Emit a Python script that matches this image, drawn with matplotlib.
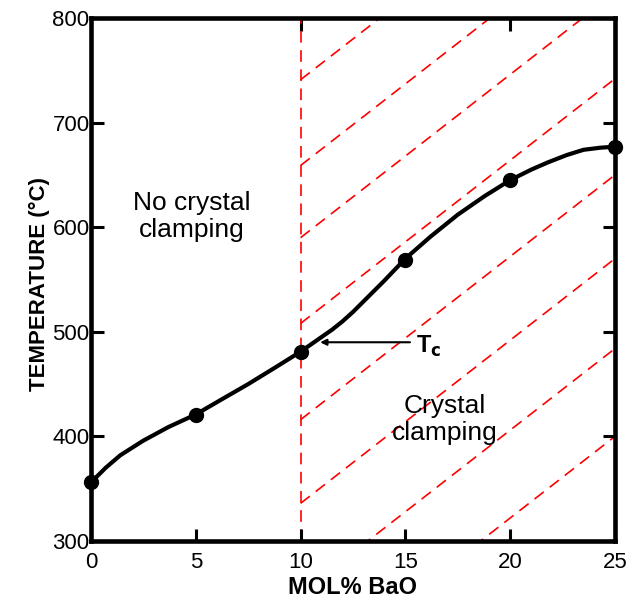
import numpy as np
import matplotlib
matplotlib.use("Agg")
import matplotlib.pyplot as plt

# measured points (mol% BaO, temperature in C)
pts_x = [0, 5, 10, 15, 20, 25]
pts_t = [356, 420, 481, 569, 645, 677]

# smooth curve traced through the figure
curve_x = [0, 0.3, 0.7, 1.4, 2.5, 3.7, 5, 6.2, 7.5, 8.8, 10, 10.5, 11.0, 11.5, 12.0, 12.5,
           13.0, 14.0, 15, 16.2, 17.5, 18.8, 20, 21.0, 21.8, 22.7, 23.5, 24.3, 25]
curve_t = [357, 362, 370, 382, 396, 409, 421, 435, 450, 466, 481, 488, 495, 502, 510, 519,
           529, 549, 570, 591, 612, 630, 645, 655, 662, 669, 674, 676, 677]

# hatch lines: temperature where each line crosses x = 10, common slope
hatch_t10 = [741, 659, 590, 508, 416, 336, 250, 166]
hatch_slope = 15.6
tc_x = 10

xticks = [0, 5, 10, 15, 20, 25]
yticks = [300, 400, 500, 600, 700, 800]

plt.rcParams['font.family'] = ['Liberation Sans', 'DejaVu Sans']

fig = plt.figure(figsize=(6.27, 6.04), dpi=100)
ax = fig.add_axes([91/627, 63/604, 524/627, 523/604])

ax.set_xlim(0, 25)
ax.set_ylim(300, 800)

# red hatching in crystal clamping region
xs = np.array([tc_x, 25])
for t0 in hatch_t10:
    ax.plot(xs, t0 + hatch_slope*(xs - tc_x), color='#ff0000', lw=1.2,
            dashes=(7, 4.5), zorder=1)
ax.axvline(tc_x, color='#ff0000', lw=1.2, dashes=(7, 4.5), zorder=1)

ax.plot(curve_x, curve_t, color='black', lw=3, solid_capstyle='round',
        solid_joinstyle='round', zorder=3)
ax.plot(pts_x, pts_t, 'o', color='black', ms=10, zorder=4, clip_on=False)

# Tc arrow
ax.annotate('', xy=(10.8, 490), xytext=(15.35, 490),
            arrowprops=dict(arrowstyle='-|>', color='black', lw=1.5,
                            mutation_scale=9), zorder=5)
ax.text(15.5, 486, r'T$_{\mathbf{c}}$', fontsize=17, fontweight='bold',
        ha='left', va='center')

ax.text(4.8, 610, 'No crystal\nclamping', fontsize=19, ha='center', va='center',
        linespacing=1.15)
ax.text(16.9, 416, 'Crystal\nclamping', fontsize=19, ha='center', va='center',
        linespacing=1.15)

for s in ax.spines.values():
    s.set_linewidth(3.3)

ax.set_xticks(xticks)
ax.set_yticks(yticks)
ax.tick_params(direction='in', length=9, width=2.2, labelsize=16)
ax.tick_params(axis='x', pad=8)
ax.tick_params(axis='y', right=True, pad=1)

# top ticks only at 10 and 20
sec = ax.secondary_xaxis('top')
sec.set_xticks([10, 20])
sec.tick_params(direction='in', length=9, width=2.2)
sec.set_xticklabels(['', ''])
sec.spines['top'].set_visible(False)

ax.set_xlabel('MOL% BaO', fontsize=17, fontweight='bold', labelpad=2)
ax.set_ylabel('TEMPERATURE (°C)', fontsize=16, fontweight='bold')
ax.yaxis.set_label_coords(-0.078, 0.491)

fig.savefig('out.png', dpi=100)
